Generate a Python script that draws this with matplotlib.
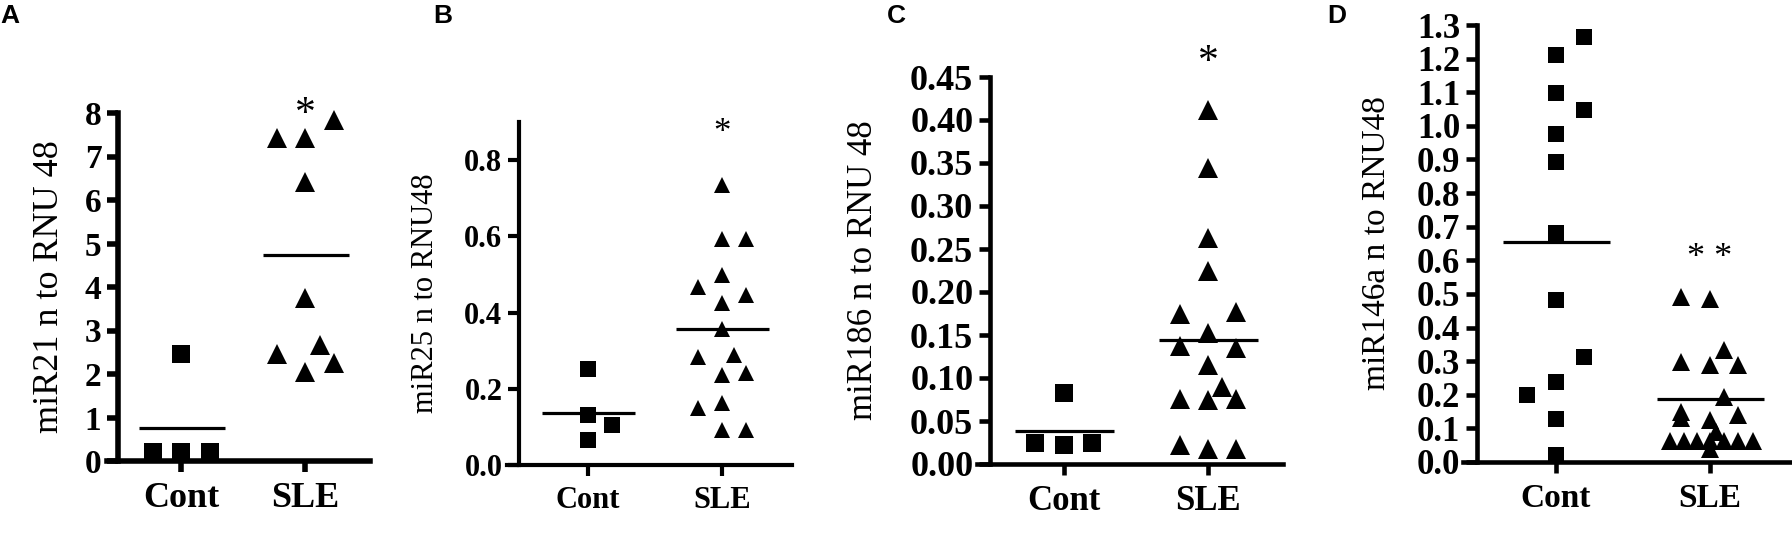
import matplotlib
matplotlib.use("Agg")
import matplotlib.pyplot as plt
import numpy as np
from matplotlib.transforms import offset_copy

groups = ["Cont", "SLE"]

# A: miR21
a_cont = [0.2, 0.2, 0.2, 2.47]
a_cont_slot = [-1, 0, 1, 0]
a_sle = [7.42, 7.42, 7.84, 6.42, 3.74, 2.47, 2.67, 2.05, 2.25]
a_sle_slot = [-1, 0, 1, 0, 0, -1, 0.5, 0, 1]
a_means = [0.77, 4.73]

# B: miR25
b_cont = [0.251, 0.131, 0.105, 0.066]
b_cont_slot = [0, 0, 1, 0]
b_sle = [0.734, 0.592, 0.594, 0.498, 0.468, 0.446, 0.424, 0.358,
         0.284, 0.288, 0.236, 0.242, 0.149, 0.162, 0.092, 0.092]
b_sle_slot = [0, 0, 1, 0, -1, 1, 0, 0, -1, 0.5, 0, 1, -1, 0, 0, 1]
b_means = [0.137, 0.358]

# C: miR186
c_cont = [0.082, 0.024, 0.022, 0.024]
c_cont_slot = [0, -1, 0, 1]
c_sle = [0.412, 0.344, 0.263, 0.224, 0.175, 0.177, 0.152, 0.137, 0.135,
         0.115, 0.090, 0.076, 0.074, 0.076, 0.022, 0.018, 0.018]
c_sle_slot = [0, 0, 0, 0, -1, 1, 0, -1, 1, 0, 0.5, -1, 0, 1, -1, 0, 1]
c_means = [0.038, 0.144]

# D: miR146a
d_cont = [1.265, 1.21, 1.098, 1.047, 0.977, 0.893, 0.680, 0.481,
          0.312, 0.238, 0.198, 0.129, 0.020]
d_cont_slot = [1, 0, 0, 1, 0, 0, 0, 0, 1, 0, -1, 0, 0]
d_sle = [0.491, 0.486, 0.332, 0.298, 0.288, 0.288, 0.193, 0.150, 0.130,
         0.139, 0.124, 0.090, 0.062, 0.062, 0.062, 0.062, 0.062, 0.062,
         0.062, 0.040]
d_sle_slot = [-1, 0, 0.5, -1, 0, 1, 0.5, -1, -1, 1, 0, 0.2,
              -1.4, -0.9, -0.45, 0, 0.5, 1, 1.5, 0]
d_means = [0.655, 0.188]

W, H = 1792, 553
fig = plt.figure(figsize=(W / 100, H / 100), dpi=100)
serif = "Liberation Serif"


def panel(box, ylim, yticks, yfmt, cont, cont_slot, sle, sle_slot, means,
          slot_w, stars, star_y, ylabel, label_x, letter, letter_x, sz):
    x0, x1, yb, yt = box
    # ylim[1] sits at pixel yt
    ax = fig.add_axes([x0 / W, (H - yb) / H, (x1 - x0) / W, (yb - yt) / H])
    ax.set_xlim(-0.6, 1.52)
    ax.set_ylim(*ylim)
    lw = sz["lw"]
    for s in ["top", "right"]:
        ax.spines[s].set_visible(False)
    ax.spines["left"].set_position(("data", -0.51))
    ax.spines["left"].set_linewidth(lw)
    ax.spines["bottom"].set_linewidth(lw)
    ax.set_xticks([0, 1])
    ax.set_xticklabels(groups, fontfamily=serif, fontweight="bold",
                       fontsize=sz["xt"])
    ax.set_yticks(yticks)
    ax.set_yticklabels([yfmt.format(v) for v in yticks], fontfamily=serif,
                       fontweight="bold", fontsize=sz["yt"])
    ax.tick_params(axis="both", direction="out", width=lw, length=8)
    ax.tick_params(axis="y", pad=4)
    ax.tick_params(axis="x", pad=7)

    ax.plot(0 + np.array(cont_slot) * slot_w, cont, "s", color="black",
            ms=sz["sq"], mew=0, clip_on=False)
    ax.plot(1 + np.array(sle_slot) * slot_w, sle, "^", color="black",
            ms=sz["tri"], mew=0, clip_on=False)
    for i, m in enumerate(means):
        ax.hlines(m, i - 0.34, i + 0.35, color="black", lw=2.3)

    fs = sz["star"]
    tr = offset_copy(ax.transData, fig=fig, x=0, y=-0.47 * fs, units="points")
    ax.text(1, star_y, stars, transform=tr, ha="center", va="baseline",
            fontsize=fs, fontfamily=serif, clip_on=False)

    fig.text(label_x / W, 1 - ((yb + yt) / 2) / H, ylabel, rotation=90,
             ha="center", va="center", fontsize=sz["yl"], fontfamily=serif)
    fig.text(letter_x / W, 1 - 4 / H, letter, ha="left", va="top",
             fontsize=19, fontweight="bold", fontfamily="Liberation Sans")
    return ax


panel((107, 370, 461, 113), (0, 8), list(range(0, 9)), "{:d}",
      a_cont, a_cont_slot, a_sle, a_sle_slot, a_means, 0.23,
      "*", 8.18, "miR21 n to RNU 48", 50, "A", 0,
      dict(lw=4, xt=26, yt=24, sq=13, tri=14, star=30, yl=26))

panel((507, 792, 465, 122), (0, 0.9), [0, 0.2, 0.4, 0.6, 0.8], "{:.1f}",
      b_cont, b_cont_slot, b_sle, b_sle_slot, b_means, 0.18,
      "*", 0.89, "miR25 n to RNU48", 425, "B", 433,
      dict(lw=3, xt=22, yt=22, sq=11, tri=12, star=25, yl=22))

panel((977, 1283, 464, 77), (0, 0.45), list(np.arange(0, 0.451, 0.05)), "{:.2f}",
      c_cont, c_cont_slot, c_sle, c_sle_slot, c_means, 0.195,
      "*", 0.478, "miR186 n to RNU 48", 863, "C", 887,
      dict(lw=3.3, xt=25, yt=26, sq=13, tri=14, star=30, yl=25))

panel((1463, 1790, 462, 25), (0, 1.3), list(np.arange(0, 1.301, 0.1)), "{:.1f}",
      d_cont, d_cont_slot, d_sle, d_sle_slot, d_means, 0.186,
      "* *", 0.63, "miR146a n to RNU48", 1377, "D", 1327,
      dict(lw=3.3, xt=24, yt=25, sq=12, tri=13, star=26, yl=24))

fig.savefig("out.png", dpi=100)
